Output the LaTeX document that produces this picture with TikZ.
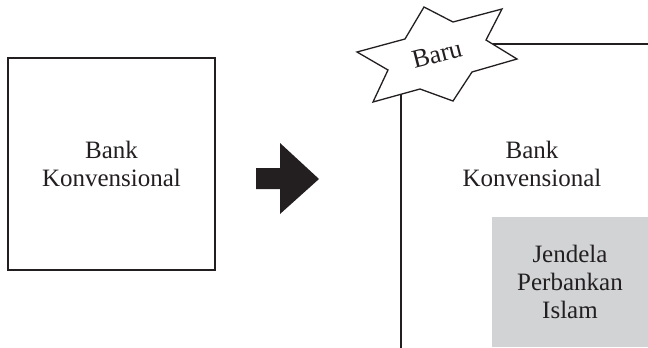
\documentclass[tikz,border=0pt]{standalone}
\usepackage{fontspec}
\setmainfont{Liberation Serif}
\definecolor{islamgrey}{RGB}{209,211,213}
\definecolor{arrowblack}{RGB}{35,31,32}
\tikzset{
  lbl/.style={align=center,font=\fontsize{12.5}{13.8}\selectfont,text=arrowblack},
  bankbox/.style={draw=arrowblack,line width=0.65pt,minimum width=103.5pt,minimum height=106pt},
  islambox/.style={fill=islamgrey,minimum width=78pt,minimum height=65pt},
  edge/.style={draw=arrowblack,line width=0.65pt}
}
\begin{document}
\begin{tikzpicture}[x=0.5pt,y=-0.5pt]
\useasboundingbox (0,0) rectangle (648,348);
\node[bankbox,lbl] (lama) at (111.5,164) {Bank\\Konvensional};
\fill[arrowblack] (256,168) -- (280,168) -- (280,143) -- (319,179)
  -- (280,214) -- (280,189) -- (256,189) -- cycle;
\node[islambox,lbl] (jendela) at (570,282) {Jendela\\Perbankan\\Islam};
\node[lbl] (baru) at (532,164) {Bank\\Konvensional};
% star
\draw[edge,fill=white] (357,52) -- (405,39) -- (424,7) -- (453,22) -- (502,9)
  -- (486,40) -- (517,59) -- (472,72) -- (453,101) -- (420,89)
  -- (373,102) -- (388,70) -- cycle;
\node[lbl,font=\fontsize{13}{13}\selectfont,rotate=14.5] (bintang) at (437,54) {Baru};
\coordinate (s1) at (401,94.3);
\coordinate (s2) at (492.5,44);
\coordinate (bawah) at (401,348);
\coordinate (kanan) at (648,44);
\draw[edge] (s1) -- (bawah);
\draw[edge] (s2) -- (kanan);
\end{tikzpicture}
\end{document}
